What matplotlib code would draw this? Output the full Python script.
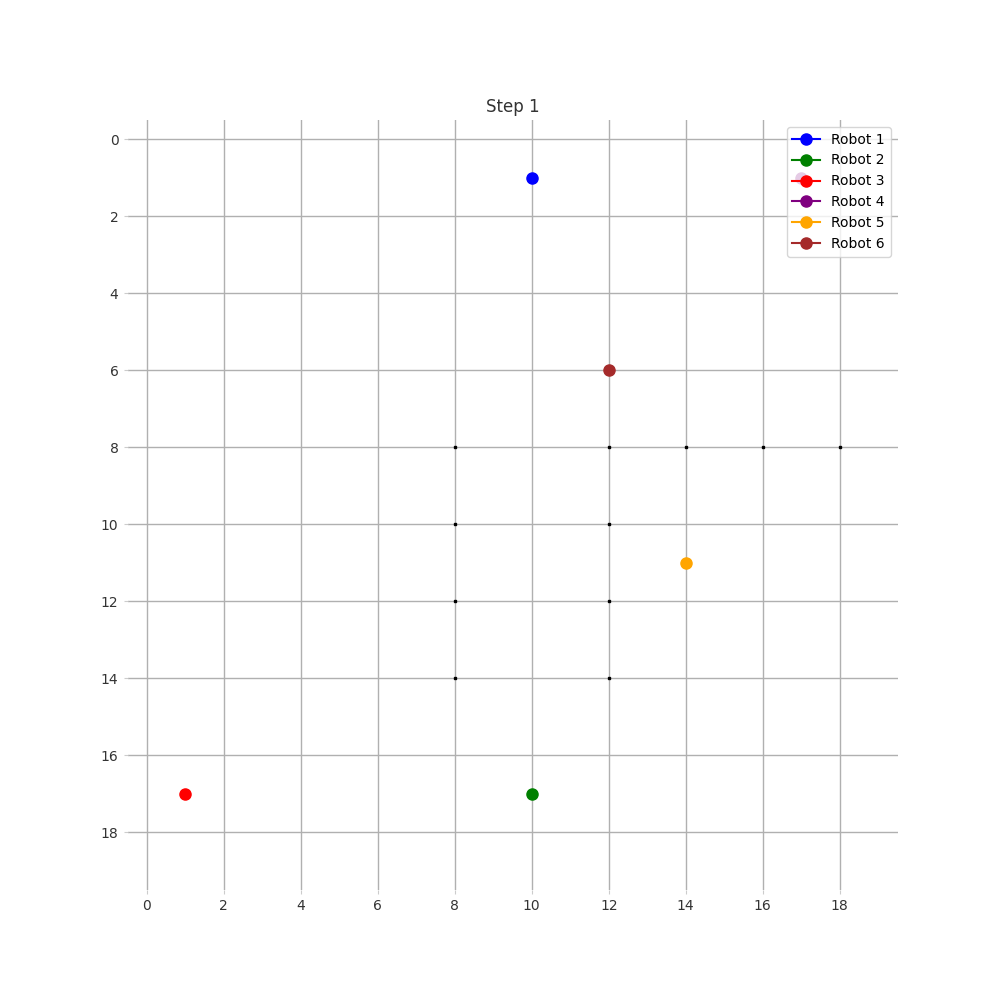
import numpy as np
import matplotlib
matplotlib.use("Agg")
import matplotlib.pyplot as plt

GRID_SIZE = 20
STEP = 1

ROBOT_NAMES = ['Robot 1', 'Robot 2', 'Robot 3', 'Robot 4', 'Robot 5', 'Robot 6']
COLORS = ['blue', 'green', 'red', 'purple', 'orange', 'brown']
ROBOT_X = [10, 10, 1, 17, 14, 12]
ROBOT_Y = [1, 17, 17, 1, 11, 6]

# obstacle cells (small dots on the map)
OBSTACLE_X = [8, 12, 14, 16, 18, 8, 12, 8, 12, 8, 12]
OBSTACLE_Y = [8, 8, 8, 8, 8, 10, 10, 12, 12, 14, 14]


def main():
    fig, ax = plt.subplots(figsize=(10, 10), dpi=100)

    # empty map as background
    grid = np.zeros((GRID_SIZE, GRID_SIZE))
    ax.imshow(grid, cmap='Greys', vmin=0, vmax=1, origin='upper')

    ax.plot(OBSTACLE_X, OBSTACLE_Y, 's', color='black', markersize=1.6,
            linestyle='none', zorder=3)

    # one marker per robot, line only shows in the legend
    for i in range(len(ROBOT_NAMES)):
        ax.plot(ROBOT_X[i], ROBOT_Y[i], marker='o', color=COLORS[i],
                markersize=8, label=ROBOT_NAMES[i], zorder=4)

    ax.set_xticks(range(0, GRID_SIZE, 2))
    ax.set_yticks(range(0, GRID_SIZE, 2))
    ax.grid(True, color='#b0b0b0', linewidth=1.0)
    ax.tick_params(colors='#cccccc', labelcolor='#333333', length=3)
    for spine in ax.spines.values():
        spine.set_visible(False)

    ax.set_title('Step %d' % STEP, color='#333333')
    ax.legend(loc='upper right')

    fig.savefig('out.png', dpi=100)


main()
